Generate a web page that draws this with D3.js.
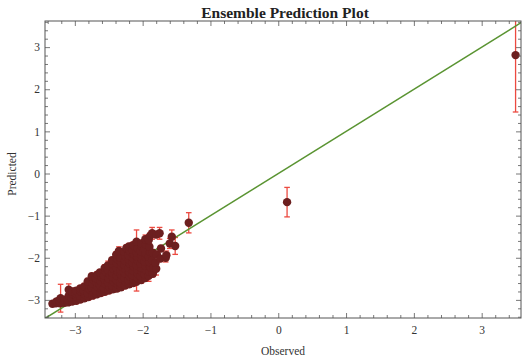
<!DOCTYPE html>
<html>
<head>
<meta charset="utf-8">
<script src="https://cdn.jsdelivr.net/npm/d3@7"></script>
<style>
  body { margin: 0; background: #fff; }
  svg { display: block; }
</style>
</head>
<body>
<svg id="chart" width="523" height="360"></svg>
<script>
// Observed vs. ensemble-predicted values, with the ensemble spread as error bars.
// One line per group of neighbouring observations.
const observed = [
  -3.33,
  -3.28, -3.27,
  -3.22, -3.23, -3.21,
  -3.16, -3.15,
  -3.10, -3.11, -3.09, -3.09,
  -3.04, -3.05, -3.03, -3.04,
  -2.98, -2.97, -2.99, -2.98,
  -2.92, -2.93, -2.91, -2.92,
  -2.86, -2.85, -2.87, -2.86,
  -2.80, -2.81, -2.79, -2.80, -2.81,
  -2.74, -2.73, -2.75, -2.74, -2.73, -2.75,
  -2.68, -2.69, -2.67, -2.68, -2.69, -2.67,
  -2.62, -2.61, -2.63, -2.62, -2.61, -2.63,
  -2.56, -2.57, -2.55, -2.56, -2.57, -2.55, -2.56,
  -2.50, -2.49, -2.51, -2.50, -2.49, -2.51, -2.51,
  -2.44, -2.45, -2.43, -2.44, -2.45, -2.43, -2.44, -2.45,
  -2.38, -2.37, -2.39, -2.38, -2.37, -2.39, -2.38, -2.37, -2.39,
  -2.32, -2.33, -2.31, -2.32, -2.33, -2.31, -2.32, -2.33, -2.35,
  -2.26, -2.25, -2.27, -2.26, -2.25, -2.27, -2.26, -2.25, -2.27, -2.24,
  -2.20, -2.21, -2.19, -2.20, -2.21, -2.19, -2.20, -2.21, -2.19, -2.20,
  -2.14, -2.13, -2.15, -2.14, -2.13, -2.15, -2.14, -2.13, -2.15, -2.14,
  -2.09, -2.08, -2.07, -2.08, -2.09, -2.07, -2.08, -2.09, -2.07, -2.09,
  -2.02, -2.03, -2.01, -2.02, -2.03, -2.01, -2.02, -2.03, -2.01, -2.02,
  -1.96, -1.97, -1.95, -1.96, -1.97, -1.95, -1.96, -1.97, -1.95, -1.96,
  -1.91, -1.90, -1.89, -1.90, -1.91, -1.89, -1.90, -1.91, -1.89,
  -1.85, -1.84, -1.86, -1.85, -1.86,
  -1.80, -1.81, -1.79, -1.80,
  -1.74, -1.73, -1.75,
  -1.66, -1.65,
  -1.60,
  -1.57,
  -1.52,
  -1.32,
  0.13,
  3.50
];

const predicted = [
  -3.09,
  -3.08, -3.04,
  -3.08, -3.02, -2.96,
  -3.07, -3.00,
  -3.06, -2.98, -2.90, -2.76,
  -3.04, -2.95, -2.86, -2.80,
  -3.02, -2.93, -2.84, -2.78,
  -2.99, -2.90, -2.81, -2.73,
  -2.96, -2.87, -2.77, -2.68,
  -2.93, -2.84, -2.74, -2.64, -2.56,
  -2.90, -2.81, -2.71, -2.61, -2.51, -2.44,
  -2.87, -2.78, -2.68, -2.58, -2.48, -2.40,
  -2.84, -2.75, -2.65, -2.55, -2.45, -2.35,
  -2.81, -2.72, -2.62, -2.52, -2.42, -2.32, -2.24,
  -2.78, -2.69, -2.59, -2.49, -2.39, -2.29, -2.18,
  -2.75, -2.66, -2.56, -2.46, -2.36, -2.26, -2.16, -2.06,
  -2.73, -2.63, -2.53, -2.43, -2.33, -2.23, -2.13, -2.03, -1.93,
  -2.70, -2.60, -2.50, -2.40, -2.30, -2.20, -2.10, -2.00, -1.84,
  -2.66, -2.57, -2.47, -2.37, -2.27, -2.17, -2.07, -1.97, -1.86, -1.77,
  -2.63, -2.54, -2.44, -2.34, -2.24, -2.14, -2.04, -1.94, -1.84, -1.73,
  -2.60, -2.51, -2.41, -2.31, -2.21, -2.11, -2.01, -1.91, -1.81, -1.70,
  -2.57, -2.48, -2.38, -2.28, -2.18, -2.08, -1.98, -1.88, -1.78, -1.62,
  -2.53, -2.44, -2.34, -2.24, -2.14, -2.04, -1.94, -1.84, -1.74, -1.66,
  -2.48, -2.39, -2.29, -2.19, -2.09, -1.99, -1.89, -1.79, -1.68, -1.56,
  -2.43, -2.33, -2.22, -2.10, -1.98, -1.86, -1.74, -1.58, -1.48,
  -2.38, -2.24, -2.06, -1.88, -1.42,
  -2.26, -2.12, -1.92, -1.45,
  -2.02, -1.78, -1.42,
  -2.00, -1.94,
  -1.66,
  -1.50,
  -1.72,
  -1.17,
  -0.68,
  2.81
];

const spread = [
  0.06,
  0.06, 0.06,
  0.06, 0.07, 0.33,
  0.07, 0.06,
  0.06, 0.07, 0.07, 0.14,
  0.06, 0.07, 0.06, 0.07,
  0.07, 0.07, 0.07, 0.07,
  0.07, 0.07, 0.07, 0.07,
  0.07, 0.07, 0.07, 0.07,
  0.07, 0.07, 0.07, 0.07, 0.07,
  0.07, 0.07, 0.07, 0.07, 0.07, 0.07,
  0.07, 0.07, 0.07, 0.07, 0.07, 0.07,
  0.07, 0.07, 0.07, 0.07, 0.07, 0.07,
  0.07, 0.07, 0.07, 0.07, 0.07, 0.07, 0.07,
  0.07, 0.07, 0.07, 0.07, 0.07, 0.07, 0.10,
  0.07, 0.07, 0.07, 0.07, 0.07, 0.07, 0.07, 0.07,
  0.07, 0.07, 0.07, 0.07, 0.07, 0.07, 0.07, 0.07, 0.07,
  0.07, 0.07, 0.07, 0.07, 0.07, 0.07, 0.07, 0.07, 0.10,
  0.07, 0.07, 0.07, 0.07, 0.07, 0.07, 0.07, 0.07, 0.07, 0.07,
  0.07, 0.07, 0.07, 0.07, 0.07, 0.07, 0.07, 0.07, 0.07, 0.07,
  0.07, 0.07, 0.07, 0.07, 0.07, 0.07, 0.07, 0.07, 0.07, 0.07,
  0.22, 0.07, 0.07, 0.07, 0.07, 0.07, 0.07, 0.07, 0.07, 0.28,
  0.07, 0.07, 0.07, 0.07, 0.07, 0.07, 0.07, 0.07, 0.07, 0.07,
  0.07, 0.07, 0.07, 0.07, 0.07, 0.07, 0.07, 0.07, 0.07, 0.10,
  0.13, 0.07, 0.07, 0.07, 0.07, 0.07, 0.07, 0.09, 0.07,
  0.07, 0.07, 0.07, 0.07, 0.14,
  0.15, 0.07, 0.07, 0.07,
  0.07, 0.07, 0.14,
  0.10, 0.10,
  0.12,
  0.16,
  0.20,
  0.24,
  0.35,
  1.35
];

const xTicks = [-3, -2, -1, 0, 1, 2, 3];
const yTicks = [-3, -2, -1, 0, 1, 2, 3];

const titleText = "Ensemble Prediction Plot";
const xLabel = "Observed";
const yLabel = "Predicted";

const svg = d3.select("#chart");
const plotLeft = 45, plotRight = 521, plotTop = 21, plotBottom = 318;

const x = d3.scaleLinear().domain([-3.44, 3.58]).range([plotLeft, plotRight]);
const y = d3.scaleLinear().domain([-3.43, 3.62]).range([plotBottom, plotTop]);

const fmt = d => (d < 0 ? "\u2212" + Math.abs(d) : String(d));
const isMinor = v => Math.abs(v - Math.round(v)) > 1e-6;
const minorX = d3.range(-3.4, 3.6, 0.2).map(v => +v.toFixed(1)).filter(isMinor);
const minorY = d3.range(-3.4, 3.62, 0.2).map(v => +v.toFixed(1)).filter(isMinor);

const data = observed.map((o, i) => ({ o, p: predicted[i], e: spread[i] }));

svg.append("defs").append("clipPath").attr("id", "plot-area")
  .append("rect").attr("x", plotLeft).attr("y", plotTop)
  .attr("width", plotRight - plotLeft).attr("height", plotBottom - plotTop);

const plot = svg.append("g").attr("clip-path", "url(#plot-area)");

// Error bars with small caps
const bars = plot.append("g").attr("stroke", "#ec4a40").attr("stroke-width", 1.3).attr("fill", "none");
data.forEach(d => {
  const cx = x(d.o);
  const y1 = y(d.p + d.e), y2 = y(d.p - d.e);
  bars.append("line").attr("x1", cx).attr("x2", cx).attr("y1", y1).attr("y2", y2);
  bars.append("line").attr("x1", cx - 2.8).attr("x2", cx + 2.8).attr("y1", y1).attr("y2", y1);
  bars.append("line").attr("x1", cx - 2.8).attr("x2", cx + 2.8).attr("y1", y2).attr("y2", y2);
});

// Identity line
plot.append("line")
  .attr("x1", x(-3.44)).attr("y1", y(-3.44))
  .attr("x2", x(3.7)).attr("y2", y(3.7))
  .attr("stroke", "#5a9432").attr("stroke-width", 1.5);

// Points
plot.append("g").selectAll("circle").data(data).join("circle")
  .attr("cx", d => x(d.o)).attr("cy", d => y(d.p))
  .attr("r", 4.2).attr("fill", "#6c1f1f");

// Frame axes: ticks point inward on all four sides
function styleAxis(g) {
  g.selectAll(".domain").remove();
  g.selectAll(".tick line").attr("stroke", "#555").attr("stroke-width", 0.8);
  g.selectAll(".tick text").attr("fill", "#333")
    .style("font-family", "'Liberation Serif', 'DejaVu Serif', serif").style("font-size", "11.5px");
}

svg.append("g").attr("transform", `translate(0,${plotBottom})`)
  .call(d3.axisBottom(x).tickValues(xTicks).tickSize(-5).tickPadding(8).tickFormat(fmt)).call(styleAxis);
svg.append("g").attr("transform", `translate(0,${plotBottom})`)
  .call(d3.axisBottom(x).tickValues(minorX).tickSize(-3).tickFormat("")).call(styleAxis);
svg.append("g").attr("transform", `translate(0,${plotTop})`)
  .call(d3.axisTop(x).tickValues(xTicks).tickSize(-5).tickFormat("")).call(styleAxis);
svg.append("g").attr("transform", `translate(0,${plotTop})`)
  .call(d3.axisTop(x).tickValues(minorX).tickSize(-3).tickFormat("")).call(styleAxis);

svg.append("g").attr("transform", `translate(${plotLeft},0)`)
  .call(d3.axisLeft(y).tickValues(yTicks).tickSize(-5).tickPadding(5).tickFormat(fmt)).call(styleAxis);
svg.append("g").attr("transform", `translate(${plotLeft},0)`)
  .call(d3.axisLeft(y).tickValues(minorY).tickSize(-3).tickFormat("")).call(styleAxis);
svg.append("g").attr("transform", `translate(${plotRight},0)`)
  .call(d3.axisRight(y).tickValues(yTicks).tickSize(-5).tickFormat("")).call(styleAxis);
svg.append("g").attr("transform", `translate(${plotRight},0)`)
  .call(d3.axisRight(y).tickValues(minorY).tickSize(-3).tickFormat("")).call(styleAxis);

svg.append("rect").attr("x", plotLeft).attr("y", plotTop)
  .attr("width", plotRight - plotLeft).attr("height", plotBottom - plotTop)
  .attr("fill", "none").attr("stroke", "#555").attr("stroke-width", 1);

// Titles
svg.append("text").attr("x", 285).attr("y", 17.5).attr("text-anchor", "middle")
  .style("font-family", "'Liberation Serif', 'DejaVu Serif', serif")
  .style("font-size", "15.5px").style("font-weight", "bold").attr("fill", "#222")
  .text(titleText);

svg.append("text").attr("x", 283).attr("y", 355).attr("text-anchor", "middle")
  .style("font-family", "'Liberation Serif', 'DejaVu Serif', serif")
  .style("font-size", "11.5px").attr("fill", "#333")
  .text(xLabel);

svg.append("text").attr("transform", "translate(16,174) rotate(-90)").attr("text-anchor", "middle")
  .style("font-family", "'Liberation Serif', 'DejaVu Serif', serif")
  .style("font-size", "11.5px").attr("fill", "#333")
  .text(yLabel);
</script>
</body>
</html>
